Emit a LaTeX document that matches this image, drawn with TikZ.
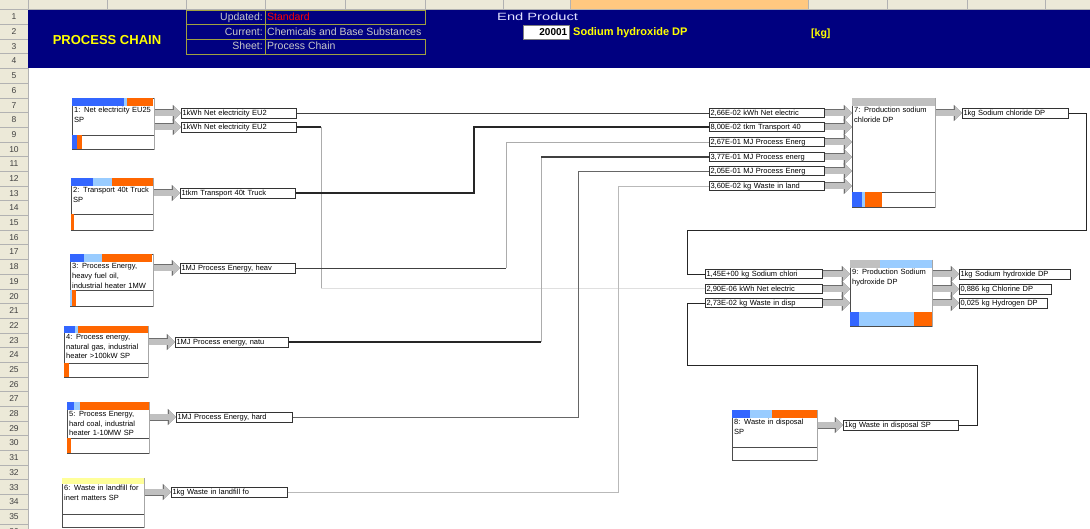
\documentclass[tikz,border=0pt]{standalone}
\usepackage{fontspec}
\setmainfont{Liberation Sans}
\usepackage{graphicx}
\usetikzlibrary{arrows.meta}

\definecolor{bandnavy}{RGB}{0,0,128}
\definecolor{barblue}{RGB}{51,102,255}
\definecolor{barlight}{RGB}{153,204,255}
\definecolor{barorange}{RGB}{255,102,0}
\definecolor{bargray}{RGB}{192,192,192}
\definecolor{baryellow}{RGB}{255,255,153}
\definecolor{headbeige}{RGB}{236,233,216}
\definecolor{headorange}{RGB}{255,200,128}
\definecolor{tableolive}{RGB}{160,160,64}
\definecolor{silvertext}{RGB}{200,200,200}
\definecolor{titleyellow}{RGB}{255,255,0}
\definecolor{flowfill}{RGB}{192,192,192}
\definecolor{flowedge}{RGB}{110,110,110}

\newcommand\cellfont{\fontsize{7.5}{9.8}\selectfont}

\tikzset{
  cell/.style={draw=black!80, fill=white, line width=0.7pt, anchor=west,
    inner xsep=1.2pt, inner ysep=0.5pt, text height=6.2pt, text depth=0.9pt,
    minimum height=10pt, font=\cellfont, align=left},
  incell/.style={cell, minimum height=9pt},
  procbox/.style={draw=black!70, fill=white, line width=0.7pt, anchor=north west, inner sep=0pt},
  proctext/.style={anchor=north west, inner sep=1pt, font=\cellfont, align=left},
  procline/.style={draw=black!70, line width=0.7pt},
  boxshade/.style={draw=gray!70, line width=1.5pt},
  flow/.style={draw=flowfill, line width=5.6pt,
    -{Triangle[length=7pt,width=14pt,line width=0.3pt]},
    preaction={draw=flowedge, line width=7pt,
      -{Triangle[length=8.2pt,width=16.2pt,line width=0.3pt]}}},
  wire/.style={draw=black!75, line width=0.9pt},
  wirethick/.style={draw=black!85, line width=1.6pt},
  wiregray/.style={draw=gray!65, line width=0.9pt},
  wirepale/.style={draw=gray!25, line width=1pt},
  wirefine/.style={draw=black!85, line width=0.7pt},
  headline/.style={draw=gray!60, line width=0.5pt},
  rownum/.style={font=\fontsize{8.5}{9}\selectfont, text=black!75, inner sep=0pt},
  tableline/.style={draw=tableolive, line width=0.9pt},
  tablelabel/.style={font=\fontsize{10.5}{12}\selectfont, text=silvertext, inner sep=0pt},
}

\begin{document}
\begin{tikzpicture}[x=1pt, y=-1pt]
  \useasboundingbox (0,0) rectangle (1090,529);
  \clip (0,0) rectangle (1090,529);
  % sheet frame
  \fill[white] (0,0) rectangle (1090,529);
  \fill[headbeige] (0,0) rectangle (1090,9.65);
  \fill[headorange] (570,0) rectangle (808,9.65);
  \foreach \x in {28,107,186,265,345,425,503,570,808,887,967,1045}
    \draw[headline] (\x,0) -- (\x,9.65);
  \draw[headline] (0,9.65) -- (1090,9.65);
  \fill[headbeige] (0,9.65) rectangle (28,529);
  \draw[headline] (28,9.65) -- (28,529);
  \foreach \r in {1,...,36} {
    \draw[headline] (0,{9.65+\r*14.69}) -- (28,{9.65+\r*14.69});
    \node[rownum] (row\r) at (14,{17+(\r-1)*14.69}) {\r};
  }

  % header band
  \fill[bandnavy] (28,9.65) rectangle (1090,68.4);
  \node[font=\bfseries\fontsize{13}{15}\selectfont, text=titleyellow, anchor=base, inner sep=0pt]
    (title) at (107,45) {PROCESS CHAIN};
  \draw[tableline] (186,10) rectangle (425,24.5);
  \draw[tableline] (186,39) rectangle (425,54);
  \draw[tableline] (186,24.5) -- (186,39);
  \draw[tableline] (265,10) -- (265,54);
  \node[tablelabel, anchor=base east] (updated) at (263,21) {Updated:};
  \node[tablelabel, anchor=base east] (current) at (263,35.5) {Current:};
  \node[tablelabel, anchor=base east] (sheet) at (263,50) {Sheet:};
  \node[tablelabel, anchor=base west, text=red] (standard) at (267,21) {Standard};
  \node[tablelabel, anchor=base west] (chem) at (267,35.5) {Chemicals and Base Substances};
  \node[tablelabel, anchor=base west] (chain) at (267,50) {Process Chain};
  \node[tablelabel, anchor=base west, text=white!88!blue] (endprod) at (497,21)
    {\scalebox{1.4}[1]{End Product}};
  \node[draw=gray, fill=white, anchor=north west, minimum height=14pt, text width=42pt,
    inner xsep=2pt, inner ysep=0pt, align=right, font=\bfseries\fontsize{10}{12}\selectfont]
    (code) at (523,25) {20001};
  \node[font=\bfseries\fontsize{11}{13}\selectfont, text=titleyellow, anchor=base west, inner sep=0pt]
    (product) at (573,36) {Sodium hydroxide DP};
  \node[font=\bfseries\fontsize{10.5}{12}\selectfont, text=titleyellow, anchor=base west, inner sep=0pt]
    (unit) at (811,37) {[kg]};

  % bends of the wires
  \coordinate (b1) at (321,0);
  \coordinate (b3) at (474,0);
  \coordinate (b4) at (506,0);
  \coordinate (b5) at (541,0);
  \coordinate (b6) at (578,0);
  \coordinate (b7) at (618,0);
  \coordinate (b8) at (1086,230);
  \coordinate (b8b) at (687,230);
  \coordinate (b9) at (977,365);
  \coordinate (b9b) at (687,365);

  % output cells of the sources
  \node[cell, text width=112.6pt] (o1a) at (181,113) {1kWh Net electricity EU2};
  \node[cell, text width=112.6pt] (o1b) at (181,127) {1kWh Net electricity EU2};
  \node[cell, text width=112.6pt] (o2) at (180,193) {1tkm Transport 40t Truck};
  \node[cell, text width=112.6pt] (o3) at (180,268) {1MJ Process Energy, heav};
  \node[cell, text width=110.6pt] (o4) at (175,342) {1MJ Process energy, natu};
  \node[cell, text width=113.6pt] (o5) at (176,417) {1MJ Process Energy, hard};
  \node[cell, text width=113.6pt] (o6) at (171,492) {1kg Waste in landfill fo};

  % input cells of process 7
  \node[incell, text width=112.6pt] (i7a) at (709,113) {2,66E-02 kWh Net electric};
  \node[incell, text width=112.6pt] (i7b) at (709,127) {8,00E-02 tkm Transport 40};
  \node[incell, text width=112.6pt] (i7c) at (709,142) {2,67E-01 MJ Process Energ};
  \node[incell, text width=112.6pt] (i7d) at (709,157) {3,77E-01 MJ Process energ};
  \node[incell, text width=112.6pt] (i7e) at (709,171) {2,05E-01 MJ Process Energ};
  \node[incell, text width=112.6pt] (i7f) at (709,186) {3,60E-02 kg Waste in land};
  \node[cell, text width=103.6pt] (o7) at (962,113) {1kg Sodium chloride DP};

  % cells of process 9
  \node[incell, text width=114.6pt] (i9a) at (705,274) {1,45E+00 kg Sodium chlori};
  \node[incell, text width=114.6pt] (i9b) at (705,289) {2,90E-06 kWh Net electric};
  \node[incell, text width=114.6pt] (i9c) at (705,303) {2,73E-02 kg Waste in disp};
  \node[cell, text width=108.6pt] (o9a) at (959,274) {1kg Sodium hydroxide DP};
  \node[cell, text width=89.6pt] (o9b) at (959,289) {0,886 kg Chlorine DP};
  \node[cell, text width=85.6pt] (o9c) at (959,303) {0,025 kg Hydrogen DP};

  % cell of process 8
  \node[cell, text width=112.6pt] (o8) at (843,425) {1kg Waste in disposal SP};

  % wires
  \draw[wire] (o1a.east) -- (i7a.west);
  \draw[wirethick] (o1b.east) -- (o1b.east -| b1) coordinate (k1);
  \draw[wiregray, line width=0.7pt] (k1) -- (k1 |- i9b.west) coordinate (k1b);
  \draw[wirepale] (k1b) -- (i9b.west);
  \draw[wirethick] (o2.east) -- (o2.east -| b3) |- (i7b.west);
  \draw[wire] (o3.east) -- (o3.east -| b4) coordinate (k4);
  \draw[wiregray] (k4) |- (i7c.west);
  \draw[wirethick] (o4.east) -- (o4.east -| b5) coordinate (k5);
  \draw[wiregray] (k5) -- (k5 |- i7d.west) coordinate (k5b);
  \draw[wire, line width=1.2pt] (k5b) -- (i7d.west);
  \draw[wire, draw=black!60] (o5.east) -- (o5.east -| b6) |- (i7e.west);
  \draw[wiregray, draw=gray!55] (o6.east) -- (o6.east -| b7) |- (i7f.west);
  \draw[wirefine] (o7.east) -| (b8) -- (b8b) |- (i9a.west);
  \draw[wirefine] (o8.east) -| (b9) -- (b9b) |- (i9c.west);

  % process 1
  \node[procbox, minimum width=82pt, minimum height=51pt] (p1) at (72,98) {};
  \fill[barblue] (72,98) rectangle (124,106);
  \fill[barlight] (124,98) rectangle (127,106);
  \fill[barorange] (127,98) rectangle (153,106);
  \draw[procline] (72,135) -- (154,135);
  \fill[barblue] (72.4,135.4) rectangle (77,148.6);
  \fill[barorange] (77,135.4) rectangle (82,148.6);
  \node[proctext, text width=78pt] (t1) at (73,106) {1: Net electricity EU25\\SP};

  % process 2
  \node[procbox, minimum width=82pt, minimum height=52pt] (p2) at (71,178) {};
  \fill[barblue] (71,178) rectangle (93,186);
  \fill[barlight] (93,178) rectangle (112,186);
  \fill[barorange] (112,178) rectangle (153,186);
  \draw[procline] (71,214) -- (153,214);
  \fill[barorange] (71.4,214.4) rectangle (73.5,229.6);
  \node[proctext, text width=78pt] (t2) at (72,186) {2: Transport 40t Truck\\SP};

  % process 3
  \node[procbox, minimum width=83pt, minimum height=52pt] (p3) at (70,254) {};
  \fill[barblue] (70,254) rectangle (84,262);
  \fill[barlight] (84,254) rectangle (102,262);
  \fill[barorange] (102,254) rectangle (152,262);
  \node[proctext, text width=79pt] (t3) at (71,262)
    {3: Process Energy,\\heavy fuel oil,\\industrial heater 1MW};
  \draw[procline] (70,290) -- (153,290);
  \fill[barlight] (70.4,290.4) rectangle (72,305.6);
  \fill[barorange] (72,290.4) rectangle (76,305.6);

  % process 4
  \node[procbox, minimum width=84pt, minimum height=51pt] (p4) at (64,326) {};
  \fill[barblue] (64,326) rectangle (75,333);
  \fill[barlight] (75,326) rectangle (78,333);
  \fill[barorange] (78,326) rectangle (148,333);
  \node[proctext, text width=80pt] (t4) at (65,333)
    {4: Process energy,\\natural gas, industrial\\heater >100kW SP};
  \draw[procline] (64,363) -- (148,363);
  \fill[barorange] (64.4,363.4) rectangle (69,376.6);

  % process 5
  \node[procbox, minimum width=82pt, minimum height=51pt] (p5) at (67,402) {};
  \fill[barblue] (67,402) rectangle (74,410);
  \fill[barlight] (74,402) rectangle (80,410);
  \fill[barorange] (80,402) rectangle (149,410);
  \node[proctext, text width=78pt] (t5) at (68,410)
    {5: Process Energy,\\hard coal, industrial\\heater 1-10MW SP};
  \draw[procline] (67,438) -- (149,438);
  \fill[barorange] (67.4,438.4) rectangle (71,452.6);

  % process 6
  \node[procbox, minimum width=82pt, minimum height=49pt] (p6) at (62,478) {};
  \fill[baryellow] (62,478) rectangle (144,484);
  \node[proctext, text width=78pt] (t6) at (63,484) {6: Waste in landfill for\\inert matters SP};
  \draw[procline] (62,514) -- (144,514);

  % process 7
  \node[procbox, minimum width=83pt, minimum height=109pt] (p7) at (852,98) {};
  \fill[bargray] (852,98) rectangle (935,106);
  \node[proctext, text width=79pt] (t7) at (853,106) {7: Production sodium\\chloride DP};
  \draw[procline] (852,192) -- (935,192);
  \fill[barblue] (852.4,192.4) rectangle (862,206.6);
  \fill[barlight] (862,192.4) rectangle (865,206.6);
  \fill[barorange] (865,192.4) rectangle (882,206.6);

  % process 9
  \node[procbox, minimum width=82pt, minimum height=66pt] (p9) at (850,260) {};
  \fill[bargray] (850,260) rectangle (880,268);
  \fill[barlight] (880,260) rectangle (932,268);
  \node[proctext, text width=78pt] (t9) at (851,268) {9: Production Sodium\\hydroxide DP};
  \draw[procline] (850,312) -- (932,312);
  \fill[barblue] (850.4,312.4) rectangle (859,325.6);
  \fill[barlight] (859,312.4) rectangle (914,325.6);
  \fill[barorange] (914,312.4) rectangle (931.6,325.6);

  % process 8
  \node[procbox, minimum width=85pt, minimum height=50pt] (p8) at (732,410) {};
  \fill[barblue] (732,410) rectangle (750,418);
  \fill[barlight] (750,410) rectangle (772,418);
  \fill[barorange] (772,410) rectangle (817,418);
  \node[proctext, text width=81pt] (t8) at (733,418) {8: Waste in disposal\\SP};
  \draw[procline] (732,447) -- (817,447);

  \foreach \p in {p1,p2,p3,p4,p5,p6,p7,p8,p9}
    \draw[boxshade] (\p.north east) -- (\p.south east);

  % block arrows
  \draw[flow] (p1.east |- o1a.west) -- (o1a.west);
  \draw[flow] (p1.east |- o1b.west) -- (o1b.west);
  \draw[flow] (p2.east |- o2.west) -- (o2.west);
  \draw[flow] (p3.east |- o3.west) -- (o3.west);
  \draw[flow] (p4.east |- o4.west) -- (o4.west);
  \draw[flow] (p5.east |- o5.west) -- (o5.west);
  \draw[flow] (p6.east |- o6.west) -- (o6.west);
  \foreach \c in {i7a,i7b,i7c,i7d,i7e,i7f}
    \draw[flow] (\c.east) -- (p7.west |- \c.east);
  \draw[flow] (p7.east |- o7.west) -- (o7.west);
  \foreach \c in {i9a,i9b,i9c}
    \draw[flow] (\c.east) -- (p9.west |- \c.east);
  \foreach \c in {o9a,o9b,o9c}
    \draw[flow] (p9.east |- \c.west) -- (\c.west);
  \draw[flow] (p8.east |- o8.west) -- (o8.west);
\end{tikzpicture}
\end{document}
